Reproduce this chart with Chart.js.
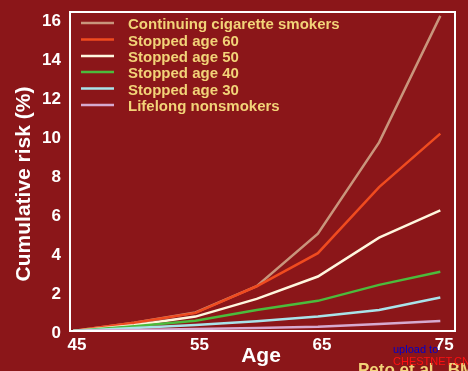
<!DOCTYPE html>
<html>
<head>
<meta charset="utf-8">
<script src="https://cdn.jsdelivr.net/npm/chart.js@4.4.1/dist/chart.umd.min.js"></script>
<style>
  html, body { margin: 0; padding: 0; background: #8b1619; }
  #wrap { width: 468px; height: 371px; position: relative; }
</style>
</head>
<body>
<div id="wrap"><canvas id="c" width="468" height="371"></canvas></div>
<script>
// ---- data ----
const ages = [45, 50, 55, 60, 65, 70, 75];
const seriesNames = [
  "Continuing cigarette smokers",
  "Stopped age 60",
  "Stopped age 50",
  "Stopped age 40",
  "Stopped age 30",
  "Lifelong nonsmokers"
];
const continuingSmokers = [0, 0.42, 0.95, 2.3, 5.0, 9.7, 16.2];
const stopped60 = [0, 0.42, 0.93, 2.3, 4.0, 7.4, 10.15];
const stopped50 = [0, 0.3, 0.74, 1.65, 2.8, 4.8, 6.2];
const stopped40 = [0, 0.25, 0.53, 1.08, 1.55, 2.37, 3.05];
const stopped30 = [0, 0.15, 0.31, 0.5, 0.74, 1.08, 1.72];
const nonsmokers = [0, 0.05, 0.1, 0.15, 0.22, 0.36, 0.52];
const xTicks = [45, 55, 65, 75];
const yTicks = [0, 2, 4, 6, 8, 10, 12, 14, 16];

const colors = ["#c9957c", "#f04b1f", "#fff6de", "#4cbb3c", "#a9e3ea", "#d6a9cf"];
const allSeries = [continuingSmokers, stopped60, stopped50, stopped40, stopped30, nonsmokers];

const FONT = "'Liberation Sans', Arial, sans-serif";

const datasets = allSeries.map((vals, i) => ({
  label: seriesNames[i],
  data: vals.map((v, j) => ({ x: ages[j], y: v })),
  borderColor: colors[i],
  backgroundColor: colors[i],
  borderWidth: 2.5,
  pointRadius: 0,
  tension: 0,
  fill: false
})).reverse();

const bgPlugin = {
  id: 'bg',
  beforeDraw(chart) {
    const ctx = chart.ctx;
    ctx.save();
    ctx.fillStyle = '#8b1619';
    ctx.fillRect(0, 0, chart.width, chart.height);
    ctx.restore();
  }
};

const decoPlugin = {
  id: 'deco',
  afterDraw(chart) {
    const ctx = chart.ctx;
    const a = chart.chartArea;
    ctx.save();
    // frame
    ctx.strokeStyle = '#ffffff';
    ctx.lineWidth = 2;
    ctx.strokeRect(a.left, a.top, a.right - a.left, a.bottom - a.top);

    // legend
    ctx.font = "bold 15px " + FONT;
    ctx.textBaseline = 'middle';
    ctx.textAlign = 'left';
    const rowY = [25, 41.5, 58, 74, 90.5, 107];
    seriesNames.forEach((n, i) => {
      const y = rowY[i];
      ctx.strokeStyle = colors[i];
      ctx.lineWidth = 2.5;
      ctx.beginPath();
      ctx.moveTo(81, y - 2);
      ctx.lineTo(114, y - 2);
      ctx.stroke();
      ctx.fillStyle = '#f2d378';
      ctx.fillText(n, 128, y);
    });

    // axis titles
    ctx.fillStyle = '#ffffff';
    ctx.font = "bold 21px " + FONT;
    ctx.textAlign = 'center';
    ctx.textBaseline = 'middle';
    ctx.fillText('Age', 261, 356);
    ctx.save();
    ctx.translate(24, 184);
    ctx.rotate(-Math.PI / 2);
    ctx.fillText('Cumulative risk (%)', 0, 0);
    ctx.restore();

    // source text
    ctx.textAlign = 'left';
    ctx.textBaseline = 'alphabetic';
    ctx.font = "bold 17px " + FONT;
    ctx.fillStyle = '#f2d378';
    ctx.fillText('Peto et al., BM', 358, 375);
    ctx.font = "11px " + FONT;
    ctx.fillStyle = '#0000cc';
    ctx.fillText('upload to', 393, 353);
    ctx.fillStyle = '#ff1010';
    ctx.fillText('CHESTNET.CN', 393, 365);
    ctx.restore();
  }
};

new Chart(document.getElementById('c'), {
  type: 'line',
  data: { datasets },
  options: {
    responsive: false,
    animation: false,
    layout: { padding: { top: 12, right: 13, left: 0, bottom: 0 } },
    plugins: { legend: { display: false }, tooltip: { enabled: false } },
    scales: {
      x: {
        type: 'linear',
        min: 44.75,
        max: 76.2,
        afterFit(s) { s.height = 40; s.paddingLeft = 0; s.paddingRight = 0; },
        afterBuildTicks(s) { s.ticks = xTicks.map(v => ({ value: v })); },
        grid: { display: false, drawTicks: false },
        border: { display: false },
        ticks: {
          color: '#ffffff',
          font: { family: FONT, size: 17, weight: 'bold' },
          padding: 4,
          labelOffset: 4,
          maxRotation: 0,
          autoSkip: false
        }
      },
      y: {
        min: 0,
        max: 16.4,
        afterFit(s) { s.width = 70; s.paddingTop = 0; s.paddingBottom = 0; },
        afterBuildTicks(s) { s.ticks = yTicks.map(v => ({ value: v })); },
        grid: { display: false, drawTicks: false },
        border: { display: false },
        ticks: {
          color: '#ffffff',
          font: { family: FONT, size: 17, weight: 'bold' },
          padding: 9,
          labelOffset: 2,
          autoSkip: false
        }
      }
    }
  },
  plugins: [bgPlugin, decoPlugin]
});
</script>
</body>
</html>
